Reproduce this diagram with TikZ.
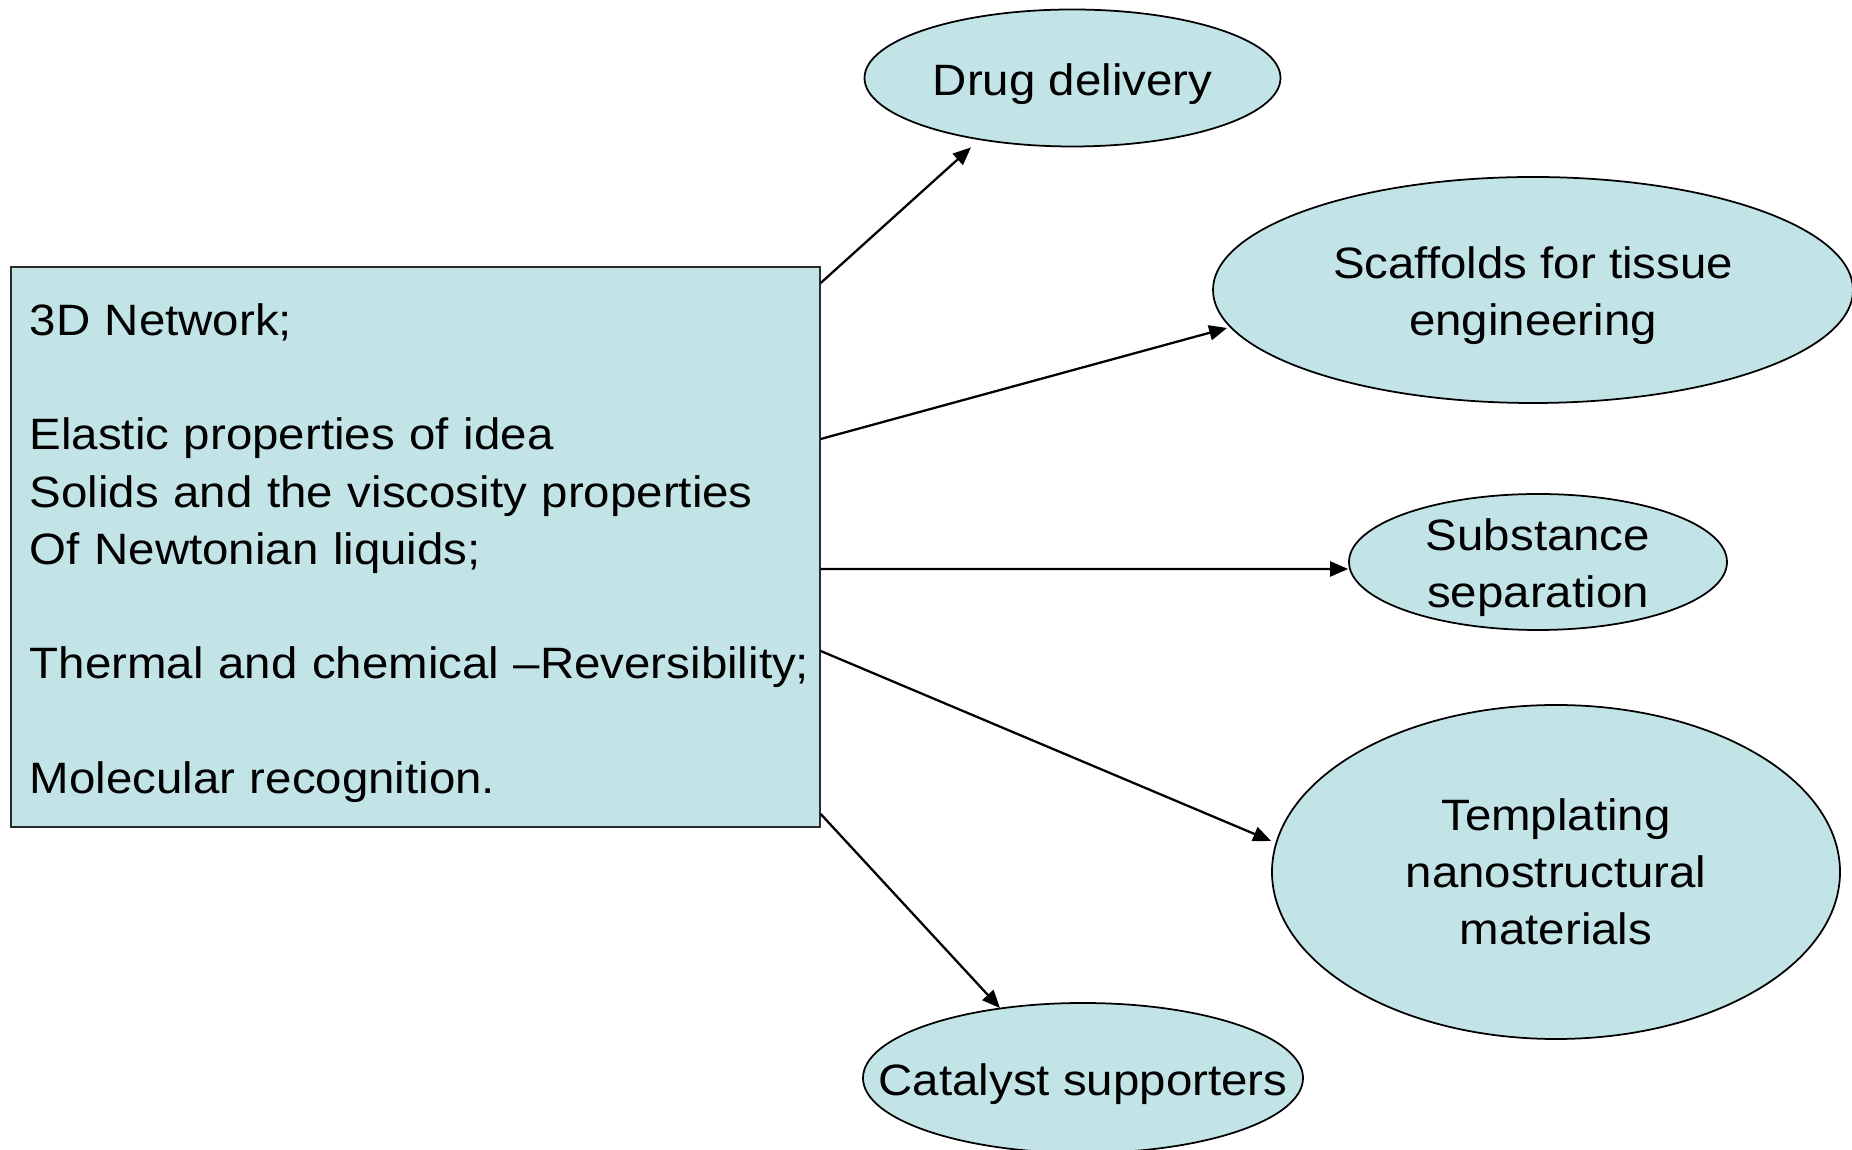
\documentclass[tikz,border=0pt]{standalone}
\usepackage{fontspec}
\setmainfont{Liberation Sans}[FakeStretch=1.08]
\usepackage{tikz}
\usetikzlibrary{arrows.meta,shapes.geometric}
\definecolor{Cian}{HTML}{C3E4E7}
\definecolor{Borde}{HTML}{2B2B2B}

\begin{document}
\begin{tikzpicture}[
  >={Triangle[length=3.6mm,width=3mm]},
  every node/.style={font=\fontsize{25}{32.6}\selectfont},
  propbox/.style={draw=Borde,line width=1.2pt,fill=Cian,inner sep=0pt,
    minimum width=16.18cm,minimum height=11.2cm},
  proptext/.style={align=left,text width=15.42cm,inner sep=0pt,yshift=-0.12cm},
  bubble/.style={ellipse,draw,line width=1pt,fill=Cian,inner sep=0pt},
  bubbletext/.style={align=center,inner sep=0pt,yshift=-0.12cm},
  usearrow/.style={->,line width=1.3pt}
]
  \useasboundingbox (0,0) rectangle (37.04,22.98);

  % Properties of the gel network.
  \node[propbox] (props) at (8.303,12.04) {};
  \node[proptext] (props-t) at (props) {
    3D Network;\\[32.6pt]
    Elastic properties of idea\\
    Solids and the viscosity properties\\
    Of Newtonian liquids;\\[32.6pt]
    \mbox{Thermal and chemical –Reversibility;}\\[32.6pt]
    Molecular recognition.};

  % Applications.
  \node[bubble,minimum width=8.32cm,minimum height=2.74cm] (drug) at (21.45,21.42) {};
  \node[bubble,minimum width=12.8cm,minimum height=4.52cm] (scaf) at (30.66,17.18) {};
  \node[bubble,minimum width=7.56cm,minimum height=2.72cm] (subst) at (30.76,11.74) {};
  \node[bubble,minimum width=11.36cm,minimum height=6.68cm] (templ) at (31.12,5.54) {};
  \node[bubble,minimum width=8.8cm,minimum height=3.0cm] (cat) at (21.66,1.42) {};

  \node[bubbletext] (drug-t) at (drug) {Drug delivery};
  \node[bubbletext] (scaf-t) at (scaf) {Scaffolds for tissue\\engineering};
  \node[bubbletext] (subst-t) at (subst) {Substance\\separation};
  \node[bubbletext,yshift=0.12cm] (templ-t) at (templ) {Templating\\nanostructural\\materials};
  \node[bubbletext] (cat-t) at (cat) {Catalyst supporters};

  \draw[usearrow] ([yshift=5.28cm]props.east) -- ([xshift=-2.03cm]drug.south);
  \draw[usearrow] ([yshift=2.16cm]props.east) -- ([xshift=0.3cm,yshift=-0.76cm]scaf.west);
  \draw[usearrow] ([yshift=-0.44cm]props.east) -- ([yshift=-0.14cm]subst.west);
  \draw[usearrow] ([yshift=-2.08cm]props.east) -- ([yshift=0.62cm]templ.west);
  \draw[usearrow] ([yshift=-5.34cm]props.east) -- ([xshift=-1.66cm,yshift=-0.12cm]cat.north);
\end{tikzpicture}
\end{document}
